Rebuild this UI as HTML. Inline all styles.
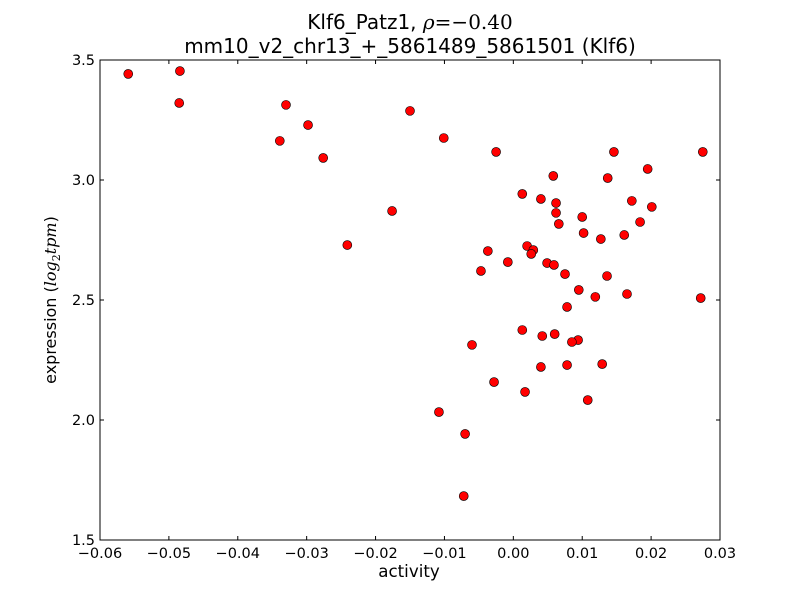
<!DOCTYPE html>
<html><head><meta charset="utf-8"><style>
body{margin:0;background:#fff;}
svg{display:block;font-family:"DejaVu Sans","Liberation Sans",sans-serif;}
</style></head><body>
<svg id="chart" width="800" height="600">
<rect width="800" height="600" fill="#fff"/>
<text x="410" y="29" font-size="20" text-anchor="middle">Klf6_Patz1, <tspan font-family="DejaVu Serif,serif" font-style="italic">ρ</tspan><tspan font-family="DejaVu Serif,serif">=−0.40</tspan></text>
<text x="410" y="53" font-size="20" text-anchor="middle">mm10_v2_chr13_+_5861489_5861501 (Klf6)</text>
<text x="409" y="577" font-size="16.7" text-anchor="middle">activity</text>
<text transform="translate(56,300) rotate(-90)" font-size="16" text-anchor="middle">expression (<tspan font-family="DejaVu Serif,serif" font-style="italic">log</tspan><tspan font-family="DejaVu Serif,serif" font-size="11" dy="4">2</tspan><tspan font-family="DejaVu Serif,serif" font-style="italic" dy="-4">tpm</tspan>)</text>
<g id="ticks"></g>
<g id="points"></g>
<rect x="100" y="60" width="620" height="480" fill="none" stroke="#000" stroke-width="1"/>
</svg>
<script>
const xs=[-0.0559,-0.0484,-0.0485,-0.0330,-0.0298,-0.0339,-0.0276,-0.0150,-0.0101,-0.0025,-0.0176,-0.0241,0.0058,0.0146,0.0137,0.0195,0.0275,0.0013,0.0040,0.0062,0.0062,0.0172,0.0201,0.0100,0.0066,0.0184,0.0102,0.0161,0.0127,0.0020,0.0029,-0.0037,0.0026,-0.0008,0.0049,0.0059,-0.0047,0.0075,0.0136,0.0095,0.0165,0.0119,0.0272,0.0078,0.0013,0.0042,0.0060,0.0094,0.0085,-0.0060,0.0040,0.0078,0.0129,-0.0028,0.0017,0.0108,-0.0108,-0.0070,-0.0072];
const ys=[3.442,3.454,3.321,3.313,3.229,3.163,3.092,3.288,3.175,3.117,2.871,2.729,3.017,3.117,3.008,3.046,3.117,2.942,2.921,2.904,2.863,2.913,2.888,2.846,2.817,2.825,2.779,2.771,2.754,2.725,2.708,2.704,2.692,2.658,2.654,2.646,2.621,2.608,2.600,2.542,2.525,2.513,2.508,2.471,2.375,2.350,2.358,2.333,2.325,2.313,2.221,2.229,2.233,2.158,2.117,2.083,2.033,1.942,1.683];
const xTicks=[-0.06,-0.05,-0.04,-0.03,-0.02,-0.01,0.00,0.01,0.02,0.03];
const xTickLabels=["−0.06","−0.05","−0.04","−0.03","−0.02","−0.01","0.00","0.01","0.02","0.03"];
const yTicks=[1.5,2.0,2.5,3.0,3.5];
const yTickLabels=["1.5","2.0","2.5","3.0","3.5"];
const X=v=>100+(v+0.06)/0.09*620;
const Y=v=>540-(v-1.5)/2*480;
const NS="http://www.w3.org/2000/svg";
const tg=document.getElementById('ticks');
function mk(tag,attrs,parent){const e=document.createElementNS(NS,tag);for(const k in attrs)e.setAttribute(k,attrs[k]);parent.appendChild(e);return e;}
xTicks.forEach((t,i)=>{const x=X(t);
 const a=mk('line',{x1:x,x2:x,y1:540,y2:536,stroke:'#000'},tg);
 
 
 const b=mk('line',{x1:x,x2:x,y1:60,y2:64,stroke:'#000'},tg);
 
 
 const l=mk('text',{x:x,y:558,'font-size':14.5,'text-anchor':'middle'},tg);l.textContent=xTickLabels[i];
 
 
});
yTicks.forEach((t,i)=>{const y=Y(t);
 const a=mk('line',{x1:100,x2:104,y1:y,y2:y,stroke:'#000'},tg);
 
 
 const b=mk('line',{x1:716,x2:720,y1:y,y2:y,stroke:'#000'},tg);
 
 
 const l=mk('text',{x:95,y:y+5,'font-size':14.5,'text-anchor':'end'},tg);l.textContent=yTickLabels[i];
 
 
});
const pg=document.getElementById('points');
xs.forEach((v,i)=>{
 const c=mk('circle',{cx:X(v),cy:Y(ys[i]),r:4.5,fill:'#ff0000',stroke:'#000','stroke-width':0.6},pg);
 
 
});
</script>
</body></html>
